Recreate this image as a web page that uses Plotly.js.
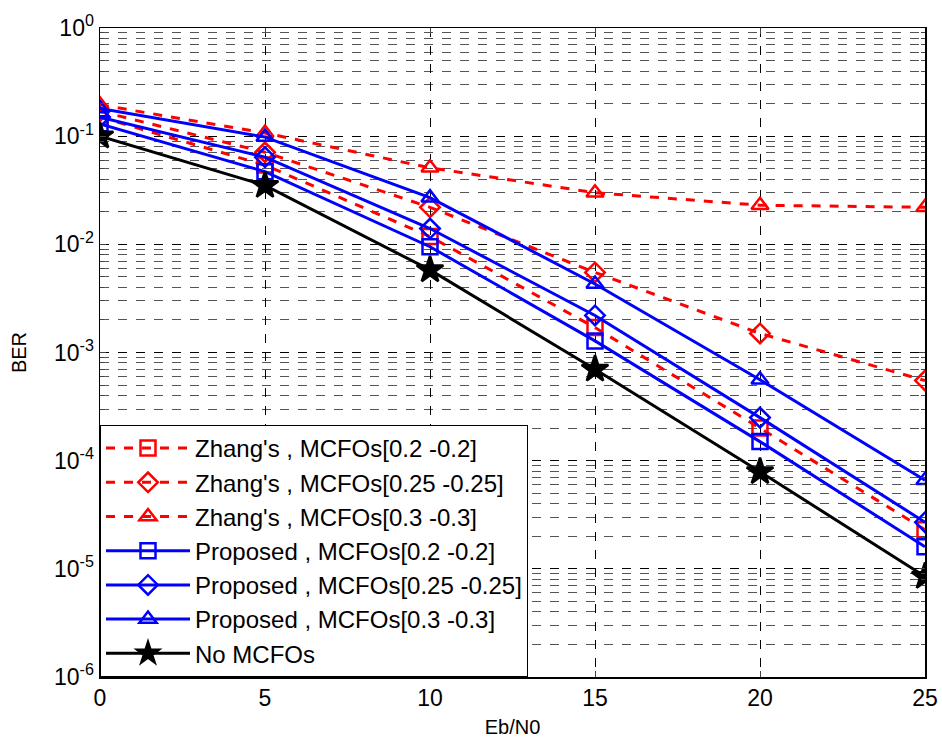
<!DOCTYPE html>
<html><head><meta charset="utf-8">
<script src="https://cdn.plot.ly/plotly-3.0.1.min.js"></script>
<style>body{margin:0;background:#fff}#c{width:942px;height:745px}</style>
</head><body><div id="c"></div>
<script>
const ebn0 = [0, 5, 10, 15, 20, 25];
const zhang02 = [0.15, 0.054, 0.0118, 0.0017, 2.0e-4, 2.3e-5];
const zhang025 = [0.17, 0.071, 0.022, 0.0055, 0.0015, 5.5e-4];
const zhang03 = [0.195, 0.107, 0.051, 0.030, 0.023, 0.022];
const prop02 = [0.13, 0.047, 0.0095, 0.00128, 1.5e-4, 1.6e-5];
const prop025 = [0.15, 0.064, 0.014, 0.0022, 2.5e-4, 2.7e-5];
const prop03 = [0.18, 0.098, 0.027, 0.0043, 5.6e-4, 6.6e-5];
const noMcfo = [0.1, 0.035, 0.0058, 7.0e-4, 7.9e-5, 8.5e-6];
const names = ["Zhang's , MCFOs[0.2 -0.2]", "Zhang's , MCFOs[0.25 -0.25]", "Zhang's , MCFOs[0.3 -0.3]",
  "Proposed , MCFOs[0.2 -0.2]", "Proposed , MCFOs[0.25 -0.25]", "Proposed , MCFOs[0.3 -0.3]", "No MCFOs"];
const yTickVals = [1, 0.1, 0.01, 0.001, 1e-4, 1e-5, 1e-6];
const yTickText = ['10<sup>0</sup>','10<sup>-1</sup>','10<sup>-2</sup>','10<sup>-3</sup>','10<sup>-4</sup>','10<sup>-5</sup>','10<sup>-6</sup>'];
const xTickVals = [0, 5, 10, 15, 20, 25];

function tr(y, name, color, dash, symbol, big) {
  return {x: ebn0, y: y, name: name, type: 'scatter', mode: 'lines+markers',
    line: {color: color, width: 3, dash: dash},
    marker: {symbol: symbol, size: big ? 20 : 15, color: color,
      line: {color: color, width: 2.5}}};
}
const data = [
  tr(zhang02, names[0], '#ff0000', 'dash', 'square-open', false),
  tr(zhang025, names[1], '#ff0000', 'dash', 'diamond-open', false),
  tr(zhang03, names[2], '#ff0000', 'dash', 'triangle-up-open', false),
  tr(prop02, names[3], '#0000ff', 'solid', 'square-open', false),
  tr(prop025, names[4], '#0000ff', 'solid', 'diamond-open', false),
  tr(prop03, names[5], '#0000ff', 'solid', 'triangle-up-open', false),
  tr(noMcfo, names[6], '#000000', 'solid', 'star', true)
];
const layout = {
  width: 942, height: 745,
  margin: {l: 100, r: 17, t: 28, b: 68},
  paper_bgcolor: '#fff', plot_bgcolor: '#fff',
  font: {family: 'Liberation Sans, Arial, sans-serif', color: '#000', size: 20},
  showlegend: true,
  legend: {x: 0, y: 0, xanchor: 'left', yanchor: 'bottom', bgcolor: '#fff', bordercolor: '#000', borderwidth: 1,
    font: {size: 24}, itemwidth: 84, tracegroupgap: 0},
  xaxis: {range: [0, 25], tickvals: xTickVals, ticks: 'inside', ticklen: 6, mirror: 'ticks',
    showline: true, linecolor: '#000', linewidth: 1.5, zeroline: false,
    showgrid: true, gridcolor: '#000', griddash: 'dash', gridwidth: 1,
    tickfont: {size: 23, family: 'Liberation Sans', color: '#000'},
    title: {text: 'Eb/N0', font: {size: 20}, standoff: 10}},
  yaxis: {type: 'log', range: [-6, 0], tickvals: yTickVals, ticktext: yTickText,
    ticks: 'inside', ticklen: 6, mirror: 'ticks',
    showline: true, linecolor: '#000', linewidth: 1.5, zeroline: false,
    showgrid: true, gridcolor: '#000', griddash: 'dash', gridwidth: 1,
    minor: {dtick: 'D1', showgrid: true, gridcolor: '#555', griddash: 'dash', gridwidth: 1, ticks: 'inside', ticklen: 4},
    tickfont: {size: 23, family: 'Liberation Sans', color: '#000'},
    title: {text: 'BER', font: {size: 20}, standoff: 22}}
};
Plotly.newPlot('c', data, layout, {displayModeBar: false, staticPlot: true});
</script></body></html>
